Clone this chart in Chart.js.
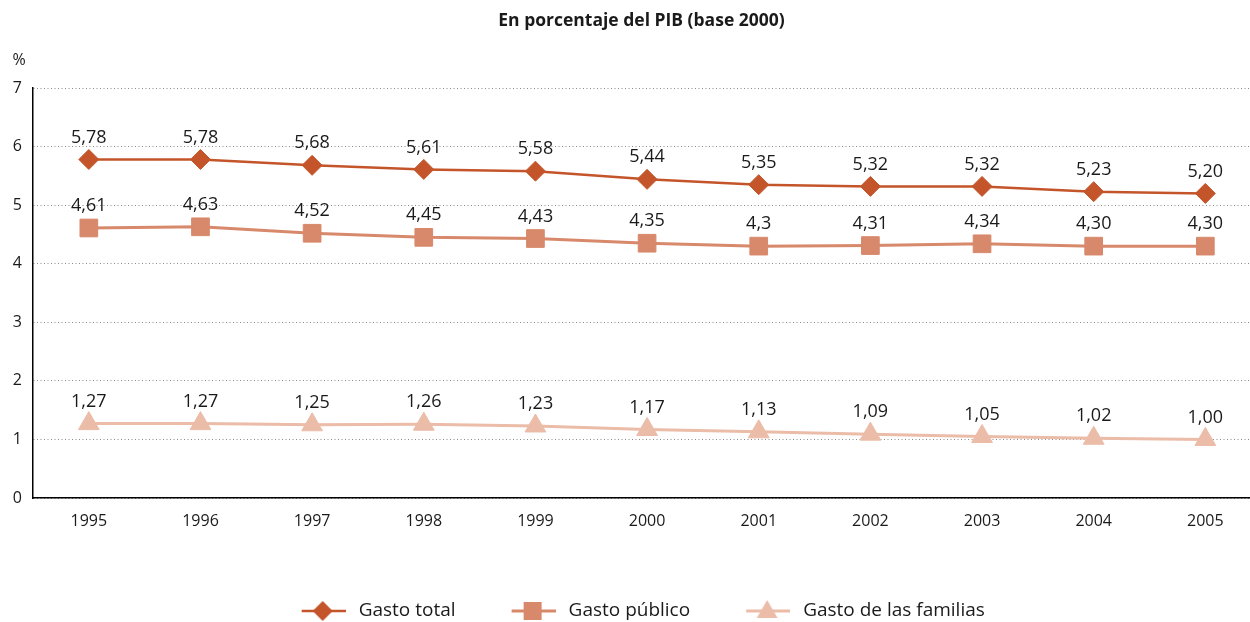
<!DOCTYPE html>
<html>
<head>
<meta charset="utf-8">
<script src="https://cdn.jsdelivr.net/npm/chart.js@4/dist/chart.umd.min.js"></script>
<style>
html,body{margin:0;padding:0;background:#fff;}
#wrap{width:1250px;height:622px;position:relative;}
</style>
</head>
<body>
<div id="wrap"><canvas id="c" width="1250" height="622"></canvas></div>
<script>
const years = [1995,1996,1997,1998,1999,2000,2001,2002,2003,2004,2005];
const gastoTotal = [5.78,5.78,5.68,5.61,5.58,5.44,5.35,5.32,5.32,5.23,5.20];
const gastoPublico = [4.61,4.63,4.52,4.45,4.43,4.35,4.30,4.31,4.34,4.30,4.30];
const gastoFamilias = [1.27,1.27,1.25,1.26,1.23,1.17,1.13,1.09,1.05,1.02,1.00];
const labelsTotal = ["5,78","5,78","5,68","5,61","5,58","5,44","5,35","5,32","5,32","5,23","5,20"];
const labelsPublico = ["4,61","4,63","4,52","4,45","4,43","4,35","4,3","4,31","4,34","4,30","4,30"];
const labelsFamilias = ["1,27","1,27","1,25","1,26","1,23","1,17","1,13","1,09","1,05","1,02","1,00"];
const yTicks = [0,1,2,3,4,5,6,7];
const seriesNames = ["Gasto total","Gasto público","Gasto de las familias"];

const C_TOTAL = '#C4552A';
const C_PUB = '#D8896B';
const C_FAM = '#EBBCA8';
const FONT = "'Open Sans', 'Noto Sans', sans-serif";
const TXT = '#1a1a1a';

function pts(vals){ return vals.map((v,i)=>({x:years[i], y:v})); }

const LEAD = 33, IW = 44, MARGIN = 3.5;
function legendIcon(color, shape, lw){
  const h = 24;
  const cv = document.createElement('canvas');
  cv.width = LEAD + IW; cv.height = h;
  const ctx = cv.getContext('2d');
  ctx.strokeStyle = color; ctx.fillStyle = color; ctx.lineWidth = lw;
  ctx.beginPath(); ctx.moveTo(LEAD, h/2); ctx.lineTo(LEAD+IW, h/2); ctx.stroke();
  const cx = LEAD + IW/2 - 1, cy = h/2;
  ctx.beginPath();
  if (shape === 'diamond'){
    const r = 10;
    ctx.moveTo(cx-r,cy); ctx.lineTo(cx,cy-r); ctx.lineTo(cx+r,cy); ctx.lineTo(cx,cy+r);
  } else if (shape === 'square'){
    const s = 9;
    ctx.rect(cx-s, cy-s, 2*s, 2*s);
  } else {
    const r = 12;
    ctx.moveTo(cx, cy-r+1);
    ctx.lineTo(cx + Math.sin(2*Math.PI/3)*r, cy + r/2 + 1);
    ctx.lineTo(cx - Math.sin(2*Math.PI/3)*r, cy + r/2 + 1);
  }
  ctx.closePath(); ctx.fill();
  return cv;
}
const icons = [legendIcon(C_TOTAL,'diamond',2.5), legendIcon(C_PUB,'square',3), legendIcon(C_FAM,'triangle',3)];
const pointLabels = [labelsTotal, labelsPublico, labelsFamilias];

const valueLabels = {
  id: 'valueLabels',
  afterDatasetsDraw(chart){
    const ctx = chart.ctx;
    ctx.save();
    ctx.font = "18px " + FONT;
    ctx.fillStyle = TXT;
    ctx.textAlign = 'center';
    ctx.textBaseline = 'middle';
    chart.data.datasets.forEach((ds, di)=>{
      const meta = chart.getDatasetMeta(di);
      meta.data.forEach((p, i)=>{
        ctx.fillText(pointLabels[di][i], p.x, p.y - 22);
      });
    });
    ctx.font = "16px " + FONT;
    ctx.fillText('%', chart.chartArea.left - 14, chart.chartArea.top - 28);
    ctx.restore();
  }
};

new Chart(document.getElementById('c'), {
  type: 'line',
  data: {
    datasets: [
      {label: seriesNames[0], data: pts(gastoTotal), borderColor: C_TOTAL, backgroundColor: C_TOTAL,
       borderWidth: 2.5, pointStyle: 'rectRot', pointRadius: 10, pointBorderWidth: 1, pointHoverRadius: 10, clip: false},
      {label: seriesNames[1], data: pts(gastoPublico), borderColor: C_PUB, backgroundColor: C_PUB,
       borderWidth: 3, pointStyle: 'rect', pointRadius: 12.5, pointBorderWidth: 1, pointHoverRadius: 12.5, clip: false},
      {label: seriesNames[2], data: pts(gastoFamilias), borderColor: C_FAM, backgroundColor: C_FAM,
       borderWidth: 3, pointStyle: 'triangle', pointRadius: 12, pointBorderWidth: 1, pointHoverRadius: 12, clip: false}
    ]
  },
  options: {
    responsive: false,
    animation: false,
    layout: {autoPadding: false, padding: {left: 0, right: 0, top: 0, bottom: -8.5}},
    scales: {
      x: {
        type: 'linear',
        min: 1994.5,
        max: 2005.4,
        afterBuildTicks: (s)=>{ s.ticks = years.map(v=>({value:v})); },
        afterFit: (s)=>{ s.height = 84; s.paddingRight = 0; s.paddingLeft = 0; },
        grid: {display: false, drawTicks: false},
        border: {display: true, color: '#000', width: 1.5},
        ticks: {padding: 14, color: TXT, font: {family: FONT, size: 16}, callback: (v)=>String(v), autoSkip: false, maxRotation: 0}
      },
      y: {
        min: 0, max: 7,
        afterBuildTicks: (s)=>{ s.ticks = yTicks.map(v=>({value:v})); },
        afterFit: (s)=>{ s.width = 33; },
        grid: {color: '#8a8a8a', lineWidth: 1, drawTicks: false},
        border: {display: true, color: '#000', width: 1.5, dash: [1,2.5]},
        ticks: {padding: 11, color: TXT, font: {family: FONT, size: 16}}
      }
    },
    plugins: {
      title: {
        display: true,
        fullSize: false,
        text: 'En porcentaje del PIB (base 2000)',
        color: TXT,
        font: {family: FONT, size: 17.5, weight: 'bold'},
        padding: {top: 11, bottom: 56}
      },
      legend: {
        position: 'bottom',
        labels: {
          usePointStyle: true,
          pointStyleWidth: LEAD + IW + 2*MARGIN,
          padding: 19.5,
          color: TXT,
          font: {family: FONT, size: 19},
          generateLabels: (chart)=>{
            const base = Chart.defaults.plugins.legend.labels.generateLabels(chart);
            return base.map((l,i)=>Object.assign(l, {pointStyle: icons[i]}));
          }
        }
      },
      tooltip: {enabled: false}
    }
  },
  plugins: [valueLabels]
});
</script>
</body>
</html>
